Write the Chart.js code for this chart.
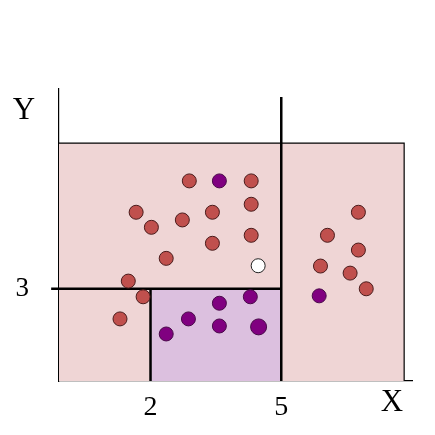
<!DOCTYPE html>
<html>
<head>
<meta charset="utf-8">
<script src="https://cdn.jsdelivr.net/npm/chart.js@4.4.1/dist/chart.umd.min.js"></script>
<style>
  html, body { margin: 0; padding: 0; background: #fff; }
  #wrap { width: 435px; height: 435px; }
</style>
</head>
<body>
<div id="wrap"><canvas id="treeChart" width="435" height="435"></canvas></div>
<script>
// points of each class
const redX = [2.89, 4.31, 1.67, 3.42, 4.31, 2.02, 2.73, 3.42, 4.31, 2.36, 1.49, 1.83, 1.30, 6.77, 6.06, 6.77, 5.90, 6.58, 6.95];
const redY = [6.51, 6.51, 5.49, 5.49, 5.75, 5.00, 5.24, 4.48, 4.74, 3.99, 3.25, 2.74, 2.02, 5.49, 4.74, 4.26, 3.74, 3.51, 3.00];
const purpleX = [3.58, 4.29, 3.58, 2.87, 3.58, 2.36, 4.48, 5.87];
const purpleY = [6.51, 2.74, 2.53, 2.02, 1.79, 1.53, 1.76, 2.77];
const newX = [4.47];
const newY = [3.75];

// tree splits and tick labels
const splitX = [2, 5];
const splitY = 3;
const xTicks = [2, 5];
const yTicks = [3];
const axisNames = ["X", "Y"];

const xMin = -0.1, xMax = 8, yMin = 0, yMax = 9.5;
const boxMaxX = 7.82, boxMaxY = 7.74; // extent of the shaded region
const lineTopY = 9.24; // top of the x = 5 split line
const lineLeftX = -0.28; // left end of the y = 3 split line

const serif = "'Liberation Serif', 'Times New Roman', serif";

function toPoints(xs, ys) {
  return xs.map((x, i) => ({ x: x, y: ys[i] }));
}

// shaded regions + split lines, drawn under the points
const partitionPlugin = {
  id: "partition",
  beforeDatasetsDraw(chart) {
    const { ctx, scales } = chart;
    const sx = scales.x, sy = scales.y;
    const px = (v) => sx.getPixelForValue(v);
    const py = (v) => sy.getPixelForValue(v);
    ctx.save();
    // whole region
    ctx.fillStyle = "#efd5d5";
    ctx.fillRect(px(xMin), py(boxMaxY), px(boxMaxX) - px(xMin), py(yMin) - py(boxMaxY));
    // purple leaf: 2 < x < 5, y < 3
    ctx.fillStyle = "#dcc0df";
    ctx.fillRect(px(splitX[0]), py(splitY), px(splitX[1]) - px(splitX[0]), py(yMin) - py(splitY));
    // thin border top/right
    ctx.strokeStyle = "#000";
    ctx.lineWidth = 1.2;
    ctx.beginPath();
    ctx.moveTo(px(xMin), py(boxMaxY));
    ctx.lineTo(px(boxMaxX), py(boxMaxY));
    ctx.lineTo(px(boxMaxX), py(yMin));
    ctx.stroke();
    // thick split lines
    ctx.lineWidth = 2.5;
    ctx.beginPath();
    ctx.moveTo(px(splitX[1]), py(lineTopY));
    ctx.lineTo(px(splitX[1]), py(yMin));
    ctx.moveTo(px(lineLeftX), py(splitY));
    ctx.lineTo(px(splitX[1]), py(splitY));
    ctx.moveTo(px(splitX[0]), py(splitY));
    ctx.lineTo(px(splitX[0]), py(yMin));
    ctx.stroke();
    ctx.restore();
  },
  afterDraw(chart) {
    const { ctx, chartArea } = chart;
    ctx.save();
    ctx.fillStyle = "#000";
    ctx.font = "31px " + serif;
    ctx.textAlign = "center";
    ctx.textBaseline = "middle";
    ctx.fillText(axisNames[0], chartArea.right - 20, chartArea.bottom + 22);
    ctx.fillText(axisNames[1], chartArea.left - 35, chartArea.top + 22);
    ctx.restore();
  },
};

const ctx = document.getElementById("treeChart").getContext("2d");
new Chart(ctx, {
  type: "scatter",
  data: {
    datasets: [
      {
        label: "Red",
        data: toPoints(redX, redY),
        backgroundColor: "#c0504d",
        borderColor: "#4a1c1c",
        borderWidth: 1,
        pointRadius: 7,
      },
      {
        label: "Purple",
        data: toPoints(purpleX, purpleY),
        backgroundColor: "#800080",
        borderColor: "#4a0a4a",
        borderWidth: 1,
        pointRadius: [7, 7, 7, 7, 7, 7, 8, 7],
      },
      {
        label: "New",
        data: toPoints(newX, newY),
        backgroundColor: "#ffffff",
        borderColor: "#222",
        borderWidth: 1,
        pointRadius: 7,
      },
    ],
  },
  options: {
    responsive: false,
    animation: false,
    layout: { padding: { top: 89, right: 23, left: 0, bottom: 0 } },
    plugins: {
      legend: { display: false },
      tooltip: { enabled: false },
    },
    scales: {
      x: {
        type: "linear",
        min: xMin,
        max: xMax,
        grid: { display: false, drawTicks: false },
        border: { display: true, color: "#000", width: 1.2 },
        afterBuildTicks: (scale) => {
          scale.ticks = xTicks.map((v) => ({ value: v }));
        },
        afterFit: (scale) => {
          scale.height = 54;
        },
        ticks: {
          color: "#000",
          font: { family: serif, size: 28 },
          padding: 10,
          maxRotation: 0,
        },
      },
      y: {
        type: "linear",
        min: yMin,
        max: yMax,
        grid: { display: false, drawTicks: false },
        border: { display: true, color: "#000", width: 1.2 },
        afterBuildTicks: (scale) => {
          scale.ticks = yTicks.map((v) => ({ value: v }));
        },
        afterFit: (scale) => {
          scale.width = 59;
        },
        ticks: {
          color: "#000",
          font: { family: serif, size: 27 },
          padding: 30,
        },
      },
    },
  },
  plugins: [partitionPlugin],
});
</script>
</body>
</html>
